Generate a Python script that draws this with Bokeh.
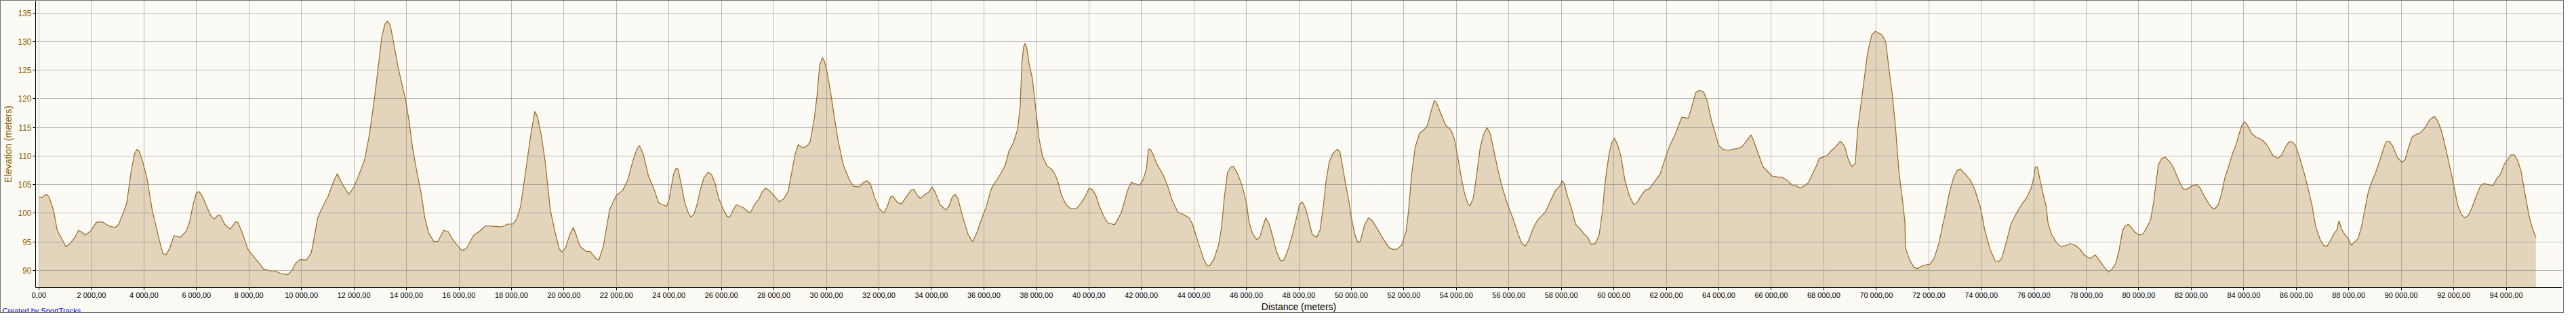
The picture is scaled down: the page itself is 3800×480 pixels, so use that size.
from bokeh.plotting import figure
from bokeh.models import FixedTicker, Range1d, Title, ColumnDataSource
from bokeh.embed import file_html
from bokeh.resources import INLINE

# ---- data ----
dist_km = [
    0.00, 0.13, 0.27, 0.38, 0.56, 0.69, 1.03, 1.16, 1.37, 1.50, 1.60, 1.76, 1.97, 2.18, 2.40, 2.65, 2.91, 3.04,
    3.25, 3.34, 3.51, 3.64, 3.74, 3.82, 3.94, 4.11, 4.32, 4.58, 4.72, 4.84, 4.99, 5.14, 5.22, 5.39, 5.61, 5.74,
    5.86, 5.99, 6.10, 6.21, 6.38, 6.55, 6.68, 6.83, 6.91, 7.07, 7.28, 7.49, 7.58, 7.75, 7.96, 8.13, 8.43, 8.54,
    8.82, 9.00, 9.24, 9.49, 9.64, 9.78, 9.95, 10.18, 10.37, 10.47, 10.62, 10.77, 11.01, 11.21, 11.36, 11.56,
    11.80, 12.00, 12.19, 12.41, 12.59, 12.79, 12.93, 13.06, 13.18, 13.28, 13.38, 13.52, 13.67, 13.82, 13.97,
    14.11, 14.24, 14.41, 14.56, 14.70, 14.85, 15.05, 15.20, 15.42, 15.59, 15.79, 16.11, 16.28, 16.57, 16.77,
    17.02, 17.41, 17.61, 17.85, 18.05, 18.20, 18.35, 18.54, 18.74, 18.89, 18.99, 19.13, 19.28, 19.48, 19.67,
    19.82, 19.92, 20.07, 20.22, 20.36, 20.46, 20.61, 20.86, 21.01, 21.21, 21.33, 21.50, 21.74, 21.99, 22.24,
    22.43, 22.63, 22.78, 22.88, 23.02, 23.22, 23.41, 23.61, 23.91, 24.00, 24.18, 24.28, 24.35, 24.47, 24.60,
    24.73, 24.83, 24.95, 25.07, 25.20, 25.33, 25.50, 25.63, 25.76, 25.89, 26.06, 26.21, 26.32, 26.45, 26.57,
    26.70, 26.83, 26.96, 27.09, 27.26, 27.43, 27.56, 27.69, 27.86, 28.00, 28.20, 28.37, 28.54, 28.67, 28.80,
    28.93, 29.10, 29.27, 29.38, 29.53, 29.64, 29.74, 29.85, 29.93, 30.04, 30.17, 30.30, 30.43, 30.64, 30.86,
    31.03, 31.24, 31.37, 31.53, 31.67, 31.84, 32.02, 32.19, 32.32, 32.45, 32.53, 32.70, 32.86, 33.05, 33.22,
    33.33, 33.47, 33.58, 33.73, 33.90, 34.03, 34.16, 34.33, 34.54, 34.67, 34.80, 34.90, 35.01, 35.18, 35.40,
    35.57, 35.74, 35.96, 36.09, 36.26, 36.39, 36.52, 36.69, 36.82, 36.95, 37.12, 37.28, 37.38, 37.45, 37.51,
    37.57, 37.63, 37.72, 37.85, 37.97, 38.10, 38.23, 38.40, 38.58, 38.70, 38.83, 38.96, 39.13, 39.30, 39.52,
    39.69, 39.86, 40.01, 40.12, 40.25, 40.38, 40.55, 40.72, 40.98, 41.11, 41.24, 41.41, 41.49, 41.62, 41.75,
    41.93, 42.06, 42.19, 42.27, 42.34, 42.44, 42.57, 42.83, 43.00, 43.17, 43.39, 43.56, 43.82, 43.95, 44.16,
    44.38, 44.51, 44.59, 44.76, 44.94, 45.06, 45.15, 45.28, 45.41, 45.50, 45.67, 45.84, 46.01, 46.10, 46.23,
    46.39, 46.51, 46.62, 46.74, 46.87, 47.00, 47.13, 47.30, 47.43, 47.60, 47.77, 47.93, 48.02, 48.13, 48.26,
    48.39, 48.51, 48.68, 48.81, 48.94, 49.03, 49.16, 49.29, 49.46, 49.56, 49.67, 49.77, 49.90, 50.00, 50.14,
    50.26, 50.35, 50.50, 50.65, 50.80, 51.01, 51.23, 51.44, 51.57, 51.74, 51.91, 52.09, 52.17, 52.30, 52.43,
    52.60, 52.77, 52.90, 53.03, 53.16, 53.25, 53.42, 53.59, 53.79, 53.92, 54.05, 54.18, 54.31, 54.44, 54.52,
    54.65, 54.78, 54.91, 55.04, 55.17, 55.30, 55.42, 55.58, 55.72, 55.94, 56.15, 56.36, 56.49, 56.62, 56.75,
    56.92, 57.09, 57.26, 57.39, 57.56, 57.78, 57.95, 58.03, 58.11, 58.24, 58.39, 58.54, 58.71, 58.88, 59.01,
    59.14, 59.31, 59.44, 59.57, 59.65, 59.73, 59.82, 59.92, 60.03, 60.15, 60.27, 60.42, 60.59, 60.76, 60.89,
    61.02, 61.19, 61.36, 61.53, 61.77, 61.90, 62.03, 62.16, 62.33, 62.49, 62.59, 62.72, 62.84, 62.95, 63.12,
    63.25, 63.42, 63.55, 63.72, 63.85, 63.99, 64.15, 64.37, 64.54, 64.71, 64.88, 65.05, 65.23, 65.34, 65.52,
    65.69, 65.86, 66.03, 66.29, 66.41, 66.59, 66.80, 66.95, 67.10, 67.27, 67.42, 67.57, 67.70, 67.83, 67.96,
    68.13, 68.26, 68.43, 68.63, 68.80, 68.92, 69.07, 69.20, 69.29, 69.42, 69.55, 69.67, 69.83, 69.97, 70.10,
    70.23, 70.36, 70.49, 70.62, 70.74, 70.87, 71.00, 71.09, 71.11, 71.26, 71.43, 71.56, 71.75, 71.92, 72.05,
    72.22, 72.39, 72.52, 72.65, 72.78, 72.95, 73.08, 73.21, 73.38, 73.58, 73.75, 73.97, 74.14, 74.35, 74.53,
    74.66, 74.78, 74.96, 75.13, 75.34, 75.56, 75.73, 75.90, 75.99, 76.06, 76.14, 76.24, 76.37, 76.47, 76.55,
    76.68, 76.85, 77.02, 77.19, 77.39, 77.58, 77.75, 77.92, 78.14, 78.35, 78.48, 78.65, 78.85, 78.99, 79.12,
    79.25, 79.38, 79.47, 79.60, 79.72, 79.85, 80.02, 80.15, 80.28, 80.45, 80.58, 80.66, 80.75, 80.88, 81.01,
    81.18, 81.31, 81.52, 81.70, 81.82, 82.04, 82.21, 82.34, 82.51, 82.73, 82.88, 83.03, 83.16, 83.28, 83.41,
    83.57, 83.70, 83.83, 83.93, 84.02, 84.13, 84.30, 84.47, 84.68, 84.86, 84.98, 85.11, 85.30, 85.45, 85.58,
    85.71, 85.84, 85.97, 86.14, 86.31, 86.48, 86.61, 86.74, 86.91, 87.04, 87.17, 87.30, 87.42, 87.55, 87.63,
    87.72, 87.85, 87.97, 88.10, 88.23, 88.36, 88.49, 88.62, 88.75, 88.87, 89.04, 89.21, 89.34, 89.43, 89.55,
    89.68, 89.85, 90.03, 90.15, 90.28, 90.41, 90.58, 90.71, 90.88, 91.01, 91.14, 91.27, 91.39, 91.52, 91.65,
    91.78, 91.91, 92.03, 92.16, 92.29, 92.42, 92.55, 92.68, 92.85, 93.02, 93.15, 93.32, 93.49, 93.66, 93.79,
    93.92, 94.06, 94.18, 94.31, 94.44, 94.57, 94.70, 94.87, 95.00, 95.13,
]

elevation_m = [
    102.8, 102.8, 103.3, 102.9, 100.4, 97.1, 94.1, 94.6, 95.8, 97.0, 96.8, 96.2, 96.9, 98.4, 98.5, 97.8, 97.5, 98.1,
    100.6, 101.7, 107.3, 110.4, 111.2, 110.8, 109.2, 106.2, 100.4, 95.4, 93.0, 92.7, 94.0, 96.1, 96.0, 95.8, 96.9, 98.5,
    101.3, 103.5, 103.8, 103.1, 101.3, 99.5, 99.0, 99.7, 99.6, 98.1, 97.2, 98.5, 98.4, 96.5, 93.7, 92.7, 91.0, 90.3,
    89.9, 89.9, 89.4, 89.3, 90.0, 91.3, 91.9, 91.8, 93.0, 95.4, 99.2, 100.8, 102.9, 105.4, 106.9, 105.1,
    103.3, 104.6, 106.7, 109.4, 113.8, 120.4, 125.8, 130.8, 133.1, 133.6, 132.9, 129.6, 125.8, 122.7, 119.8,
    115.8, 111.2, 106.9, 103.5, 99.2, 96.5, 95.0, 95.1, 97.0, 96.8, 95.2, 93.5, 93.8, 96.2, 96.8,
    97.8, 97.7, 97.6, 98.1, 98.1, 99.0, 101.2, 107.3, 113.8, 117.8, 116.9, 113.8, 109.2, 100.6, 96.5,
    93.8, 93.2, 94.0, 96.3, 97.5, 96.3, 94.2, 93.3, 93.3, 92.1, 91.8, 94.2, 100.6, 103.1, 104.0,
    105.8, 109.2, 111.2, 111.8, 110.4, 106.5, 104.5, 101.8, 101.2, 102.3, 106.9, 107.9, 107.7, 105.0, 101.9,
    100.2, 99.3, 99.8, 101.5, 104.2, 106.2, 107.2, 106.7, 105.2, 102.7, 100.8, 99.5, 99.3, 100.6, 101.5,
    101.2, 101.0, 100.5, 100.0, 101.5, 102.5, 103.8, 104.4, 103.8, 103.1, 102.0, 102.5, 103.8, 106.9, 110.2,
    112.0, 111.4, 111.8, 112.5, 116.3, 120.4, 125.8, 127.2, 126.5, 124.4, 120.8, 116.9, 113.1, 108.5, 106.0,
    104.7, 104.6, 105.2, 105.7, 105.2, 102.7, 100.8, 100.0, 101.2, 102.9, 103.0, 101.9, 101.6, 102.9, 104.0,
    104.2, 103.1, 102.6, 103.2, 103.7, 104.6, 103.5, 101.5, 100.6, 101.2, 102.9, 103.3, 102.6, 99.6, 96.3,
    95.0, 96.7, 99.6, 101.1, 104.0, 105.2, 106.0, 107.3, 108.5, 110.8, 112.3, 114.6, 118.5, 126.2, 129.0,
    129.7, 129.0, 126.2, 123.5, 118.5, 113.1, 110.0, 108.3, 107.7, 106.9, 105.4, 103.1, 101.5, 100.8, 100.8,
    101.7, 102.9, 104.4, 104.2, 103.3, 101.5, 99.6, 98.3, 98.0, 99.0, 100.2, 102.9, 104.2, 105.4, 105.2,
    104.9, 105.8, 107.7, 111.2, 111.2, 110.4, 108.8, 106.7, 104.8, 102.3, 100.2, 99.9, 99.2, 98.1, 95.0,
    91.9, 90.8, 90.8, 91.9, 94.4, 97.7, 102.3, 107.1, 108.1, 108.2, 106.9, 104.8, 101.7, 98.5, 96.5,
    95.4, 95.8, 97.5, 99.2, 98.1, 96.0, 93.5, 91.7, 91.8, 93.8, 96.5, 99.6, 101.5, 102.0, 100.8,
    98.5, 96.3, 95.8, 97.1, 101.5, 105.4, 109.0, 110.4, 111.2, 110.8, 108.1, 105.4, 102.3, 99.2, 96.2,
    94.8, 95.2, 97.9, 99.2, 98.7, 97.1, 95.4, 94.0, 93.7, 93.7, 94.4, 96.9, 100.0, 106.9, 111.5,
    114.0, 114.6, 115.4, 117.7, 119.7, 119.3, 117.3, 115.4, 114.6, 113.1, 110.0, 106.5, 103.5, 101.7, 101.3,
    102.7, 106.9, 111.5, 113.8, 115.0, 113.8, 111.2, 107.7, 105.0, 101.7, 99.2, 96.3, 94.8, 94.2, 95.2,
    97.3, 98.8, 99.6, 100.2, 101.9, 104.0, 104.8, 105.7, 105.2, 102.9, 100.8, 98.1, 97.3, 96.3, 95.8,
    94.5, 94.8, 96.2, 100.4, 104.6, 107.5, 110.4, 112.3, 113.1, 111.9, 110.0, 105.8, 103.1, 101.5, 101.9,
    102.9, 104.0, 104.3, 105.4, 106.9, 108.8, 110.6, 112.1, 113.7, 115.6, 116.8, 116.7, 116.6, 118.3, 121.1,
    121.5, 121.2, 119.8, 116.2, 114.2, 111.9, 111.2, 111.0, 111.2, 111.3, 111.6, 112.6, 113.7, 112.5, 110.2,
    108.1, 107.3, 106.5, 106.3, 106.3, 105.8, 104.9, 104.8, 104.4, 104.8, 105.4, 106.9, 108.1, 109.6, 109.8,
    110.1, 110.8, 111.5, 112.6, 111.7, 109.6, 108.1, 108.7, 114.6, 119.2, 123.8, 128.1, 131.2, 131.8, 131.5,
    131.1, 130.0, 125.0, 120.4, 114.6, 106.9, 102.3, 98.5, 94.0, 91.9, 90.6, 90.3, 90.8, 91.0, 91.1,
    92.3, 94.8, 97.7, 100.4, 103.5, 106.3, 107.5, 107.7, 106.9, 105.8, 104.2, 101.0, 96.9, 93.5, 91.7,
    91.5, 92.1, 95.0, 98.1, 100.0, 101.7, 102.7, 104.4, 106.0, 108.1, 108.1, 105.8, 103.1, 101.3, 98.1,
    96.3, 95.0, 94.2, 94.3, 94.7, 94.4, 93.8, 92.7, 92.1, 92.7, 91.9, 90.8, 89.7, 90.3, 91.2,
    93.5, 96.9, 97.7, 98.1, 97.5, 96.7, 96.2, 96.3, 97.3, 98.8, 102.3, 105.4, 108.5, 109.6, 109.8,
    109.0, 108.1, 105.8, 104.2, 104.2, 104.8, 105.0, 104.4, 102.9, 101.2, 100.7, 101.5, 103.5, 106.2, 108.0,
    110.4, 111.9, 114.0, 115.4, 116.0, 115.5, 114.0, 113.3, 112.9, 112.1, 111.2, 110.1, 109.6, 110.2, 111.5,
    112.4, 112.5, 111.9, 109.6, 106.9, 103.8, 101.2, 97.7, 95.4, 94.4, 94.2, 95.2, 96.3, 97.1, 98.7,
    97.3, 96.3, 95.6, 94.4, 95.0, 95.6, 97.7, 100.8, 103.8, 105.4, 107.3, 109.6, 111.5, 112.5, 112.6,
    111.7, 109.8, 108.9, 109.4, 111.5, 113.3, 113.8, 114.0, 114.8, 115.8, 116.6, 116.9, 116.2, 114.6, 112.3,
    109.6, 106.9, 104.2, 101.3, 99.8, 99.2, 99.6, 100.8, 102.9, 104.8, 105.2, 105.0, 104.8, 106.2, 106.9,
    108.5, 109.4, 110.2, 110.2, 109.2, 107.3, 103.8, 99.6, 97.3, 95.8,
]

x_ticks_m = list(range(0, 94001, 2000))
x_tick_labels = {t: f"{t:,.2f}".replace(",", " ").replace(".", ",") for t in x_ticks_m}
y_ticks = [90, 95, 100, 105, 110, 115, 120, 125, 130, 135]

x_title = "Distance (meters)"
y_title = "Elevation (meters)"
credit = "Created by SportTracks"

# ---- plot ----
dist_m = [d * 1000 for d in dist_km]
src = ColumnDataSource(data=dict(x=dist_m, y=elevation_m))

BG = "#FBFAF5"
p = figure(width=3782, height=462, output_backend="svg", toolbar_location=None,
           x_range=Range1d(-130, 96130), y_range=Range1d(87.03, 137.1),
           background_fill_color=BG, border_fill_color=BG, outline_line_color=None,
           min_border_left=0, min_border_right=4, min_border_top=0, min_border_bottom=38)
p.styles = {"border": "1px solid #707070"}

p.varea(x="x", y1=0, y2="y", source=src, fill_color="#E3D4BC")
p.line(x="x", y="y", source=src, line_color="#9B6A1E", line_width=1.2)

for g in (p.xgrid, p.ygrid):
    g.grid_line_color = "#7A7A7A"
    g.grid_line_dash = "1 1"
    g.grid_line_width = 1
    g.level = "overlay"
p.xgrid.ticker = FixedTicker(ticks=x_ticks_m)
p.ygrid.ticker = FixedTicker(ticks=y_ticks)

xa = p.xaxis[0]
xa.ticker = FixedTicker(ticks=x_ticks_m)
xa.major_label_overrides = x_tick_labels
xa.axis_label = x_title
xa.axis_label_text_font = "Liberation Sans"
xa.axis_label_text_font_style = "normal"
xa.axis_label_text_font_size = "14px"
xa.axis_label_text_color = "#000000"
xa.axis_label_standoff = 0
xa.major_label_text_font = "Liberation Sans"
xa.major_label_text_font_size = "11px"
xa.major_label_text_color = "#000000"
xa.major_label_standoff = 1
xa.axis_line_color = "#000000"
xa.major_tick_line_color = "#000000"
xa.major_tick_out = 4
xa.major_tick_in = 0
xa.minor_tick_line_color = None

ya = p.yaxis[0]
ya.ticker = FixedTicker(ticks=y_ticks)
ya.axis_label = y_title
ya.axis_label_text_font = "Liberation Sans"
ya.axis_label_text_font_style = "normal"
ya.axis_label_text_font_size = "14px"
ya.axis_label_text_color = "#8A5A00"
ya.axis_label_standoff = 3
ya.major_label_text_font = "Liberation Sans"
ya.major_label_text_font_size = "12px"
ya.major_label_text_color = "#8A5A00"
ya.major_label_standoff = 2
ya.axis_line_color = "#000000"
ya.major_tick_line_color = "#000000"
ya.major_tick_out = 4
ya.major_tick_in = 0
ya.minor_tick_line_color = None

credit_title = Title(text=credit, align="left", vertical_align="top", text_color="#0000FF",
                     text_font="Liberation Sans", text_font_size="11px", text_font_style="normal",
                     offset=-49)
try:
    credit_title.standoff = -22
except Exception:
    credit_title.standoff = 0
p.add_layout(credit_title, "below")

open("out.html", "w").write(file_html(p, INLINE))
